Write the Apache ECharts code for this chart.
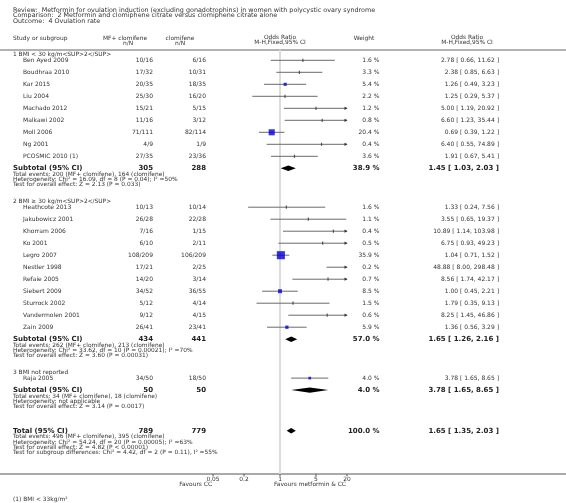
<!DOCTYPE html>
<html><head><meta charset="utf-8">
<script src="https://cdn.jsdelivr.net/npm/echarts@6/dist/echarts.min.js"></script>
<style>html,body{margin:0;padding:0;background:#fff}#c{width:566px;height:503px}</style>
</head><body><div id="c"></div>
<script>
// ---------------- DATA ----------------
const titleLines = [
  'Review:  Metformin for ovulation induction (excluding gonadotrophins) in women with polycystic ovary syndrome',
  'Comparison:  2 Metformin and clomiphene citrate versus clomiphene citrate alone',
  'Outcome:  4 Ovulation rate'
];
const colStudy = 'Study or subgroup';
const colTreat = ['MF+ clomifene', 'n/N'];
const colCtrl = ['clomifene', 'n/N'];
const colPlot = ['Odds Ratio', 'M-H,Fixed,95% CI'];
const colWeight = 'Weight';
const colEffect = ['Odds Ratio', 'M-H,Fixed,95% CI'];

const groupNames = ['1 BMI < 30 kg/m<SUP>2</SUP>', '2 BMI \u2265 30 kg/m<SUP>2</SUP>', '3 BMI not reported'];

const g1Studies = ['Ben Ayed 2009', 'Boudhraa 2010', 'Kar 2015', 'Liu 2004', 'Machado 2012', 'Malkawi 2002', 'Moll 2006', 'Ng 2001', 'PCOSMIC 2010 (1)'];
const g1Treat = ['10/16', '17/32', '20/35', '25/30', '15/21', '11/16', '71/111', '4/9', '27/35'];
const g1Ctrl = ['6/16', '10/31', '18/35', '16/20', '5/15', '3/12', '82/114', '1/9', '23/36'];
const g1Weight = [1.6, 3.3, 5.4, 2.2, 1.2, 0.8, 20.4, 0.4, 3.6];
const g1OR = [2.78, 2.38, 1.26, 1.25, 5.00, 6.60, 0.69, 6.40, 1.91];
const g1Lo = [0.66, 0.85, 0.49, 0.29, 1.19, 1.23, 0.39, 0.55, 0.67];
const g1Hi = [11.62, 6.63, 3.23, 5.37, 20.92, 35.44, 1.22, 74.89, 5.41];

const g2Studies = ['Heathcote 2013', 'Jakubowicz 2001', 'Khorram 2006', 'Ko 2001', 'Legro 2007', 'Nestler 1998', 'Refaie 2005', 'Siebert 2009', 'Sturrock 2002', 'Vandermolen 2001', 'Zain 2009'];
const g2Treat = ['10/13', '26/28', '7/16', '6/10', '108/209', '17/21', '14/20', '34/52', '5/12', '9/12', '26/41'];
const g2Ctrl = ['10/14', '22/28', '1/15', '2/11', '106/209', '2/25', '3/14', '36/55', '4/14', '4/15', '23/41'];
const g2Weight = [1.6, 1.1, 0.4, 0.5, 35.9, 0.2, 0.7, 8.5, 1.5, 0.6, 5.9];
const g2OR = [1.33, 3.55, 10.89, 6.75, 1.04, 48.88, 8.56, 1.00, 1.79, 8.25, 1.36];
const g2Lo = [0.24, 0.65, 1.14, 0.93, 0.71, 8.00, 1.74, 0.45, 0.35, 1.45, 0.56];
const g2Hi = [7.56, 19.37, 103.98, 49.23, 1.52, 298.48, 42.17, 2.21, 9.13, 46.86, 3.29];

const g3Studies = ['Raja 2005'];
const g3Treat = ['34/50'];
const g3Ctrl = ['18/50'];
const g3Weight = [4.0];
const g3OR = [3.78];
const g3Lo = [1.65];
const g3Hi = [8.65];

const subLabel = 'Subtotal (95% CI)';
const subTreatN = [305, 434, 50];
const subCtrlN = [288, 441, 50];
const subWeight = [38.9, 57.0, 4.0];
const subOR = [1.45, 1.65, 3.78];
const subLo = [1.03, 1.26, 1.65];
const subHi = [2.03, 2.16, 8.65];
const subStats = [
  ['Total events: 200 (MF+ clomifene), 164 (clomifene)',
   'Heterogeneity: Chi\u00b2 = 16.09, df = 8 (P = 0.04); I\u00b2 =50%',
   'Test for overall effect: Z = 2.13 (P = 0.033)'],
  ['Total events: 262 (MF+ clomifene), 213 (clomifene)',
   'Heterogeneity: Chi\u00b2 = 33.62, df = 10 (P = 0.00021); I\u00b2 =70%',
   'Test for overall effect: Z = 3.60 (P = 0.00031)'],
  ['Total events: 34 (MF+ clomifene), 18 (clomifene)',
   'Heterogeneity: not applicable',
   'Test for overall effect: Z = 3.14 (P = 0.0017)']
];

const totalLabel = 'Total (95% CI)';
const totalTreatN = 789;
const totalCtrlN = 779;
const totalWeight = 100.0;
const totalOR = 1.65;
const totalLo = 1.35;
const totalHi = 2.03;
const totalStats = [
  'Total events: 496 (MF+ clomifene), 395 (clomifene)',
  'Heterogeneity: Chi\u00b2 = 54.24, df = 20 (P = 0.00005); I\u00b2 =63%',
  'Test for overall effect: Z = 4.82 (P < 0.00001)',
  'Test for subgroup differences: Chi\u00b2 = 4.42, df = 2 (P = 0.11), I\u00b2 =55%'
];

const axisTicks = [0.05, 0.2, 1, 5, 20];
const axisTickLabels = ['0.05', '0.2', '1', '5', '20'];
const favoursLeft = 'Favours CC';
const favoursRight = 'Favours metformin & CC';
const footnote = '(1) BMI < 33kg/m\u00b2';

// ---------------- LAYOUT ----------------
const FONT = '"DejaVu Sans", Verdana, sans-serif';
const X = { left: 13, study: 23, treatR: 153, ctrlR: 206, treatH: 125, ctrlH: 180, plotC: 280, weightR: 379.5, weightH: 364, effectR: 499, effectH: 467, favL: 212, favR: 274 };
const Y = { title0: 10.5, titleStep: 5.3, head1: 38.3, head2: 43.8, headLine: 50, firstGroup: 54.5, headToStudy: 5.8, studyStep: 12, subToStat: 6, statStep: 5.3, statToGroup: 16.5, statToTotal: 24, axis: 474, tickLabel: 479.5, favours: 484.5, foot: 499 };
const XMIN = axisTicks[0], XMAX = axisTicks[axisTicks.length - 1];

const groups = [
  { studies: g1Studies, treat: g1Treat, ctrl: g1Ctrl, w: g1Weight, or: g1OR, lo: g1Lo, hi: g1Hi },
  { studies: g2Studies, treat: g2Treat, ctrl: g2Ctrl, w: g2Weight, or: g2OR, lo: g2Lo, hi: g2Hi },
  { studies: g3Studies, treat: g3Treat, ctrl: g3Ctrl, w: g3Weight, or: g3OR, lo: g3Lo, hi: g3Hi }
];

const fmtCI = (o, l, h) => `${o.toFixed(2)} [ ${l.toFixed(2)}, ${h.toFixed(2)} ]`;
const fmtW = w => `${w.toFixed(1)} %`;

function T(x, y, text, o) {
  o = o || {};
  return { type: 'text', x: x, y: y, silent: true, z: 10,
    style: { text: text, fill: o.color || '#333', font: (o.bold ? 'bold ' : '') + (o.size || 6) + 'px ' + FONT,
      align: o.align || 'left', verticalAlign: 'middle' } };
}

const texts = [];
const studyPts = [];   // [or, y, weight]
const ciData = [];     // [lo, hi, y]
const diamonds = [];   // [lo, est, hi, y]

titleLines.forEach((t, i) => texts.push(T(X.left, Y.title0 + i * Y.titleStep, t, { size: 6.4 })));
texts.push(T(X.left, Y.head1, colStudy, { size: 5.9 }));
texts.push(T(X.treatH, Y.head1, colTreat[0], { size: 5.9, align: 'center' }));
texts.push(T(X.treatH + 3, Y.head2, colTreat[1], { size: 5.9, align: 'center' }));
texts.push(T(X.ctrlH, Y.head1, colCtrl[0], { size: 5.9, align: 'center' }));
texts.push(T(X.ctrlH, Y.head2, colCtrl[1], { size: 5.9, align: 'center' }));
texts.push(T(X.plotC, Y.head1 - 1.3, colPlot[0], { size: 5.9, align: 'center' }));
texts.push(T(X.plotC, Y.head2 - 1.3, colPlot[1], { size: 5.9, align: 'center' }));
texts.push(T(X.weightH, Y.head1, colWeight, { size: 5.9, align: 'center' }));
texts.push(T(X.effectH, Y.head1 - 1.3, colEffect[0], { size: 5.9, align: 'center' }));
texts.push(T(X.effectH, Y.head2 - 1.3, colEffect[1], { size: 5.9, align: 'center' }));

let y = Y.firstGroup;
let lastStat = 0;
groups.forEach((g, gi) => {
  if (gi > 0) y = lastStat + Y.statToGroup;
  texts.push(T(X.left, y, groupNames[gi], { size: 5.9 }));
  y += Y.headToStudy;
  g.studies.forEach((s, i) => {
    texts.push(T(X.study, y, s, { size: 6 }));
    texts.push(T(X.treatR, y, g.treat[i], { size: 6, align: 'right' }));
    texts.push(T(X.ctrlR, y, g.ctrl[i], { size: 6, align: 'right' }));
    texts.push(T(X.weightR, y, fmtW(g.w[i]), { size: 6, align: 'right' }));
    texts.push(T(X.effectR, y, fmtCI(g.or[i], g.lo[i], g.hi[i]), { size: 6, align: 'right' }));
    studyPts.push([g.or[i], y, g.w[i]]);
    ciData.push([g.lo[i], g.hi[i], y]);
    y += Y.studyStep;
  });
  texts.push(T(X.left, y, subLabel, { size: 7, bold: true, color: '#222' }));
  texts.push(T(X.treatR, y, String(subTreatN[gi]), { size: 7, bold: true, align: 'right', color: '#222' }));
  texts.push(T(X.ctrlR, y, String(subCtrlN[gi]), { size: 7, bold: true, align: 'right', color: '#222' }));
  texts.push(T(X.weightR, y, fmtW(subWeight[gi]), { size: 7, bold: true, align: 'right', color: '#222' }));
  texts.push(T(X.effectR, y, fmtCI(subOR[gi], subLo[gi], subHi[gi]), { size: 7, bold: true, align: 'right', color: '#222' }));
  diamonds.push([subLo[gi], subOR[gi], subHi[gi], y]);
  let sy = y + Y.subToStat;
  subStats[gi].forEach(st => { texts.push(T(X.left, sy, st, { size: 5.9 })); lastStat = sy; sy += Y.statStep; });
});
y = lastStat + Y.statToTotal;
texts.push(T(X.left, y, totalLabel, { size: 7, bold: true, color: '#222' }));
texts.push(T(X.treatR, y, String(totalTreatN), { size: 7, bold: true, align: 'right', color: '#222' }));
texts.push(T(X.ctrlR, y, String(totalCtrlN), { size: 7, bold: true, align: 'right', color: '#222' }));
texts.push(T(X.weightR, y, fmtW(totalWeight), { size: 7, bold: true, align: 'right', color: '#222' }));
texts.push(T(X.effectR, y, fmtCI(totalOR, totalLo, totalHi), { size: 7, bold: true, align: 'right', color: '#222' }));
diamonds.push([totalLo, totalOR, totalHi, y]);
let sy = y + Y.subToStat;
totalStats.forEach(st => { texts.push(T(X.left, sy, st, { size: 5.9 })); sy += Y.statStep; });

texts.push(T(X.favL, Y.favours, favoursLeft, { size: 5.9, align: 'right' }));
texts.push(T(X.favR, Y.favours, favoursRight, { size: 5.9 }));
texts.push(T(X.left, Y.foot, footnote, { size: 5.9 }));

const lines = [
  { type: 'line', silent: true, shape: { x1: 0, y1: Y.headLine, x2: 566, y2: Y.headLine }, style: { stroke: '#666', lineWidth: 1 } },
  { type: 'line', silent: true, shape: { x1: 0, y1: Y.axis, x2: 566, y2: Y.axis }, style: { stroke: '#555', lineWidth: 1 } }
];

// ---------------- CHART ----------------
const chart = echarts.init(document.getElementById('c'), null, { renderer: 'canvas' });
chart.setOption({
  animation: false,
  backgroundColor: '#fff',
  grid: { left: 213, right: 219, top: 0, bottom: 0, containLabel: false },
  xAxis: { type: 'log', logBase: 10, min: XMIN, max: XMAX, show: false },
  yAxis: { type: 'value', inverse: true, min: 0, max: 503, show: false },
  graphic: { elements: lines.concat(texts) },
  series: [
    { // reference line at OR = 1
      type: 'custom', silent: true, z: 1, clip: false,
      data: [[1]],
      renderItem: (p, api) => {
        const a = api.coord([api.value(0), Y.headLine]);
        const b = api.coord([api.value(0), Y.axis]);
        return { type: 'line', shape: { x1: a[0], y1: a[1], x2: b[0], y2: b[1] }, style: { stroke: '#dcdcdc', lineWidth: 2 } };
      }
    },
    { // axis ticks + labels
      type: 'custom', silent: true, z: 5, clip: false,
      data: axisTicks.map((v, i) => [v, i]),
      renderItem: (p, api) => {
        const a = api.coord([api.value(0), Y.axis]);
        const lab = axisTickLabels[api.value(1)];
        return { type: 'group', children: [
          { type: 'line', shape: { x1: a[0], y1: Y.axis, x2: a[0], y2: Y.axis + 2.5 }, style: { stroke: '#555', lineWidth: 1 } },
          { type: 'text', x: a[0], y: Y.tickLabel, style: { text: lab, fill: '#333', font: '5.9px ' + FONT, align: 'center', verticalAlign: 'middle' } }
        ] };
      }
    },
    { // confidence intervals
      type: 'custom', silent: true, z: 3, clip: false,
      data: ciData,
      renderItem: (p, api) => {
        const lo = api.value(0), hi = api.value(1), yv = api.value(2);
        const p1 = api.coord([Math.max(lo, XMIN), yv]);
        const p2 = api.coord([Math.min(hi, XMAX), yv]);
        const ch = [{ type: 'line', shape: { x1: p1[0], y1: p1[1], x2: p2[0], y2: p2[1] }, style: { stroke: '#6a6a6a', lineWidth: 1 } }];
        if (hi > XMAX) ch.push({ type: 'polygon', shape: { points: [[p2[0] + 0.5, p2[1]], [p2[0] - 2.5, p2[1] - 1.6], [p2[0] - 2.5, p2[1] + 1.6]] }, style: { fill: '#333' } });
        if (lo < XMIN) ch.push({ type: 'polygon', shape: { points: [[p1[0] - 0.5, p1[1]], [p1[0] + 2.5, p1[1] - 1.6], [p1[0] + 2.5, p1[1] + 1.6]] }, style: { fill: '#333' } });
        return { type: 'group', children: ch };
      }
    },
    { // study squares
      type: 'scatter', silent: true, z: 4,
      symbol: 'rect',
      data: studyPts.map(d => ({ value: d, itemStyle: { color: Math.sqrt(d[2]) * 1.35 < 2.6 ? '#333' : '#0000dd' } })),
      symbolSize: d => { const s = Math.sqrt(d[2]) * 1.35; return s < 2.6 ? [1.2, 3.2] : [s, s]; }
    },
    { // diamonds
      type: 'custom', silent: true, z: 4, clip: false,
      data: diamonds,
      renderItem: (p, api) => {
        const yv = api.value(3), h = 2.7;
        const l = api.coord([api.value(0), yv]);
        const c = api.coord([api.value(1), yv]);
        const r = api.coord([api.value(2), yv]);
        return { type: 'polygon', shape: { points: [[l[0], l[1]], [c[0], c[1] - h], [r[0], r[1]], [c[0], c[1] + h]] }, style: { fill: '#000' } };
      }
    }
  ]
});
</script>
</body></html>
